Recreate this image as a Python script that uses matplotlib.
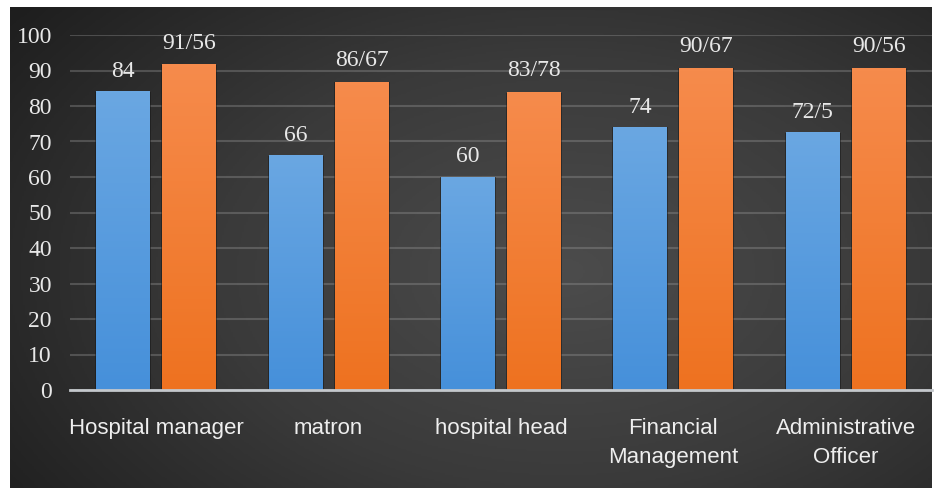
import numpy as np
import matplotlib
matplotlib.use("Agg")
import matplotlib.pyplot as plt
from matplotlib.colors import LinearSegmentedColormap

categories = ["Hospital manager", "matron", "hospital head", "Financial\nManagement", "Administrative\nOfficer"]
blue_vals = [84, 66, 60, 74, 72.5]
orange_vals = [91.56, 86.67, 83.78, 90.67, 90.56]
blue_labels = ["84", "66", "60", "74", "72/5"]
orange_labels = ["91/56", "86/67", "83/78", "90/67", "90/56"]
yticks = [0, 10, 20, 30, 40, 50, 60, 70, 80, 90, 100]

W, H = 941, 488
fig = plt.figure(figsize=(W / 100, H / 100), dpi=100, facecolor="white")

# dark radial background panel
bg = fig.add_axes([10 / W, 0 / H, 922 / W, 481 / H])
yy, xx = np.mgrid[0:1:300j, 0:1:500j]
r = np.sqrt(((xx - 0.6) / 0.75) ** 2 + ((yy - 0.55) / 0.9) ** 2)
bg_cmap = LinearSegmentedColormap.from_list("bg", ["#4c4c4c", "#3a3a3a", "#1e1e1e"])
bg.imshow(r, cmap=bg_cmap, aspect="auto", extent=[0, 1, 0, 1], vmin=0, vmax=1.0)
bg.set_axis_off()

ax = fig.add_axes([70 / W, (H - 390) / H, 862 / W, 355 / H])
ax.set_facecolor("none")

x = np.arange(len(categories))
bw = 0.313
off = 0.191

blue_cmap = LinearSegmentedColormap.from_list("b", ["#4690da", "#6aa7e2"])
orange_cmap = LinearSegmentedColormap.from_list("o", ["#ee7220", "#f68b4c"])
grad = np.linspace(0, 1, 100).reshape(-1, 1)

def grad_bar(xc, h, cmap):
    # soft shadow
    ax.bar(xc, h, bw + 0.012, color="#151515", alpha=0.5, zorder=2)
    ax.imshow(grad, cmap=cmap, aspect="auto", origin="lower",
              extent=[xc - bw / 2, xc + bw / 2, 0, h], zorder=3)

for i in range(len(categories)):
    grad_bar(x[i] - off, blue_vals[i], blue_cmap)
    grad_bar(x[i] + off, orange_vals[i], orange_cmap)
    ax.annotate(blue_labels[i], (x[i] - off, blue_vals[i]), xytext=(0, 7),
                textcoords="offset points", ha="center", va="bottom",
                fontsize=17, color="#e8e8e8", family="Liberation Serif")
    ax.annotate(orange_labels[i], (x[i] + off, orange_vals[i]), xytext=(0, 8),
                textcoords="offset points", ha="center", va="bottom",
                fontsize=17, color="#e8e8e8", family="Liberation Serif")

ax.set_xlim(-0.5, 4.5)
ax.set_ylim(0, 100)

ax.set_yticks(yticks)
ax.set_yticklabels([str(v) for v in yticks], family="Liberation Serif",
                   fontsize=17, color="#e8e8e8")
ax.set_xticks(x)
ax.set_xticklabels(categories, family="Liberation Sans",
                   fontsize=16, color="#eeeeee", va="top", linespacing=1.5)
ax.tick_params(axis="y", length=0, pad=13)
ax.tick_params(axis="x", length=0, pad=20)

ax.grid(axis="y", color="#9a9a9a", alpha=0.35, linewidth=1.5, zorder=1)
ax.set_axisbelow(True)
for s in ["top", "right", "left"]:
    ax.spines[s].set_visible(False)
ax.spines["bottom"].set_color("#c4c8cc")
ax.spines["bottom"].set_linewidth(2)
ax.spines["bottom"].set_zorder(4)

fig.savefig("out.png", dpi=100, facecolor="white")
